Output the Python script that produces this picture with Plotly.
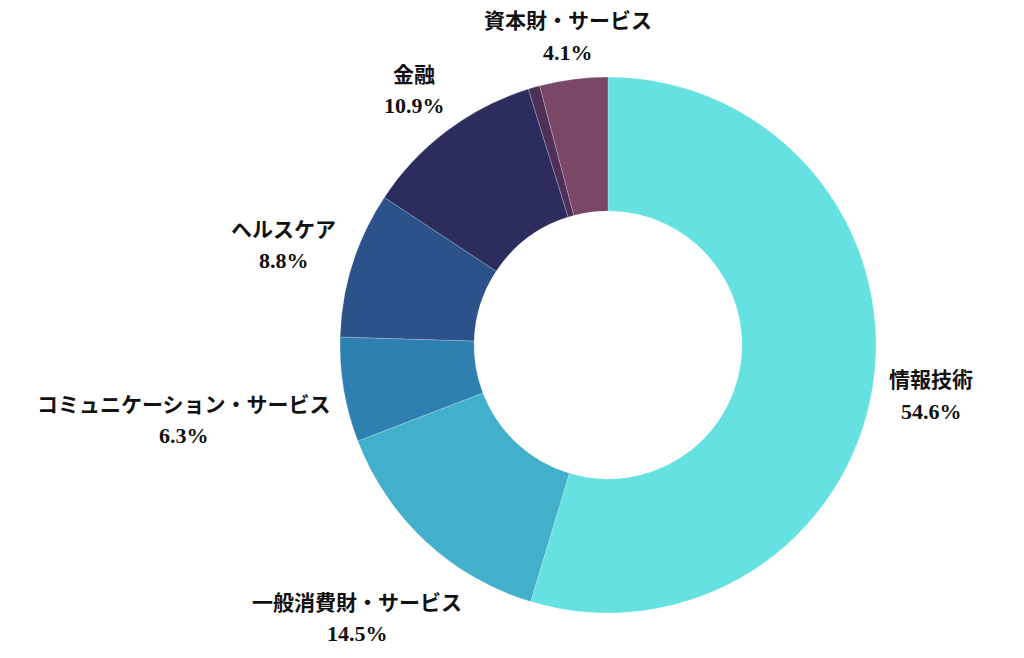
import math
import plotly.graph_objects as go

labels = ["情報技術", "一般消費財・サービス", "コミュニケーション・サービス", "ヘルスケア", "金融", "その他", "資本財・サービス"]
values = [54.6, 14.5, 6.3, 8.8, 10.9, 0.7, 4.1]
show_label = [True, True, True, True, True, False, True]
colors = ["#66E1E2", "#42AFCB", "#2E80B0", "#2C528A", "#2C2D5E", "#4E3058", "#7A4866"]

# ---- layout geometry (page pixels) ----
W, H = 1008, 642          # figure size (page has 8px body margin)
OFF = 8
CX, CY, R = 608, 345, 268  # pie centre and radius on the page
CLEAR = 282                # label boxes sit just outside this radius
FS = 21                    # label font size
FS_PCT = 22
LINE_GAP = 31              # distance between the two label lines
BOX_H = 58


def px_to_paper(x, y):
    return (x - OFF) / W, 1 - (y - OFF) / H


x0, y1 = px_to_paper(CX - R, CY - R)
x1, y0 = px_to_paper(CX + R, CY + R)

fig = go.Figure(go.Pie(
    labels=labels,
    values=values,
    textinfo="none",
    hole=0.5,
    sort=False,
    direction="clockwise",
    rotation=0,
    marker=dict(colors=colors, line=dict(color="rgba(255,255,255,0.35)", width=0.6)),
    domain=dict(x=[x0, x1], y=[y0, y1]),
    showlegend=False,
    hoverinfo="label+value",
))

font_name = dict(family="Liberation Serif, Noto Sans CJK JP", size=FS, color="#111111", weight="bold")
font_pct = dict(family="Liberation Serif, Noto Sans CJK JP", size=FS_PCT, color="#111111", weight="bold")

total = sum(values)
cum = 0.0
for lab, val, show in zip(labels, values, show_label):
    mid = (cum + val / 2) / total * 2 * math.pi
    cum += val
    if not show:
        continue
    ux, uy = math.sin(mid), -math.cos(mid)
    pct = f"{val:.1f}%"
    bw = max(len(lab) * FS * 0.985, len(pct) * FS * 0.55)
    bh = BOX_H
    t = R * 0.5
    while True:
        cx, cy = CX + ux * t, CY + uy * t
        nx = min(max(CX, cx - bw / 2), cx + bw / 2)
        ny = min(max(CY, cy - bh / 2), cy + bh / 2)
        if math.hypot(nx - CX, ny - CY) >= CLEAR:
            break
        t += 0.5
    ax, ay = px_to_paper(cx, cy - LINE_GAP / 2 + 3)
    fig.add_annotation(
        x=ax, y=ay, xref="paper", yref="paper", text=lab,
        showarrow=False, xanchor="center", yanchor="middle", font=font_name,
    )
    bx, by = px_to_paper(cx, cy + LINE_GAP / 2 + 3)
    fig.add_annotation(
        x=bx, y=by, xref="paper", yref="paper", text=pct,
        showarrow=False, xanchor="center", yanchor="middle", font=font_pct,
    )

fig.update_layout(
    width=W, height=H,
    margin=dict(l=0, r=0, t=0, b=0),
    paper_bgcolor="white",
    plot_bgcolor="white",
)

fig.write_html("out.html")
